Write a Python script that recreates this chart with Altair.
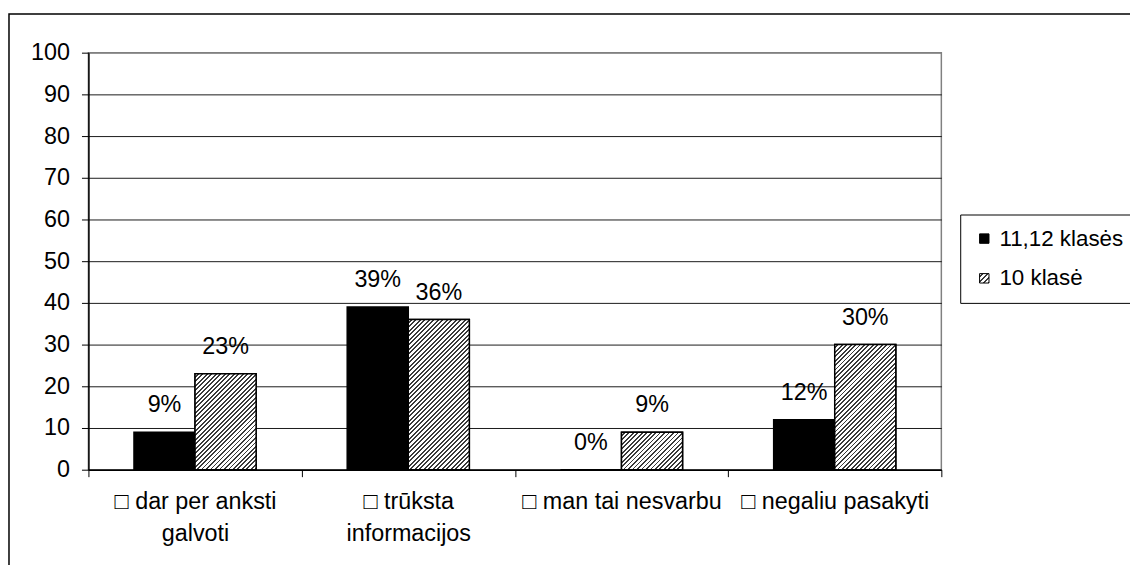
import json
import altair as alt
import pandas as pd

# ---- data ----
categories = ["□ dar per anksti|galvoti", "□ trūksta|informacijos",
              "□ man tai nesvarbu", "□ negaliu pasakyti"]
series = ["11,12 klasės", "10 klasė"]
values_1112 = [9, 39, 0, 12]
values_10 = [23, 36, 9, 30]
y_ticks = list(range(0, 101, 10))

rows = []
for c, a, b in zip(categories, values_1112, values_10):
    rows.append({"category": c, "series": series[0], "value": a})
    rows.append({"category": c, "series": series[1], "value": b})
df = pd.DataFrame(rows)

# ---- layout ----
PLOT_W, PLOT_H = 859, 420
OFFSET_PAD = 0.746
FONT = "Liberation Sans"
FS = 23.5
PERIOD = 4.5
DARK_FRAC = 0.42
DARK = "#3a3a3a"


def hatch(w, h):
    """Diagonal '/' stripes for a box of w x h pixels (bounding-box gradient)."""
    n = max(1, int(round((w + h) / PERIOD)))
    stops = []
    for k in range(n):
        a0 = k / n
        a1 = (k + 1 - DARK_FRAC) / n
        a2 = (k + 1) / n
        stops += [
            {"offset": round(a0, 5), "color": "#ffffff"},
            {"offset": round(a1, 5), "color": "#ffffff"},
            {"offset": round(a1, 5), "color": DARK},
            {"offset": round(a2, 5), "color": DARK},
        ]
    s = (w + h) / (w * w + h * h)
    return {"gradient": "linear", "x1": 0, "y1": 0,
            "x2": round(w * s, 6), "y2": round(h * s, 6), "stops": stops}


x_enc = alt.X(
    "category:N",
    scale=alt.Scale(domain=categories, paddingInner=0, paddingOuter=0),
    axis=alt.Axis(
        title=None, labelAngle=0, tickBand="extent", grid=False,
        labelExpr="split(datum.label, '|')", labelPadding=13,
        labelLineHeight=32, tickSize=7, labelLimit=300,
    ),
)
xoff_enc = alt.XOffset(
    "series:N",
    scale=alt.Scale(domain=series, paddingInner=0, paddingOuter=OFFSET_PAD),
)
y_enc = alt.Y(
    "value:Q",
    scale=alt.Scale(domain=[0, 100], nice=False),
    axis=alt.Axis(
        title=None, values=y_ticks, grid=True, tickSize=7, labelPadding=12,
        gridColor={"condition": {"test": "datum.value == 100", "value": "#808080"},
                   "value": "#1a1a1a"},
    ),
)

base = alt.Chart(df)

frame = alt.Chart(pd.DataFrame({"k": [0]})).mark_rect(
    fill="transparent", stroke="black", strokeWidth=1.5
).encode(
    x=alt.value(-80), x2=alt.value(1100), y=alt.value(-39), y2=alt.value(560)
)

legend_hatch = {"expr": json.dumps(hatch(10, 10))}

bars = base.mark_bar(stroke="black", strokeWidth=1.5).encode(
    x=x_enc, xOffset=xoff_enc, y=y_enc,
    color=alt.Color(
        "series:N",
        scale=alt.Scale(domain=series, range=["#000000", legend_hatch]),
        legend=alt.Legend(title=None),
    ),
)

# hatched overlay for the "10 klasė" bars, corrected for each bar's shape
bar_w = (PLOT_W / len(categories)) / (2 + 2 * OFFSET_PAD)
hatch_layers = []
for c, v in zip(categories, values_10):
    if v <= 0:
        continue
    grad = hatch(bar_w, v * PLOT_H / 100.0)
    layer = base.transform_filter(
        (alt.datum.category == c) & (alt.datum.series == series[1])
    ).mark_bar(fill=grad, stroke="black", strokeWidth=1.5).encode(
        x=x_enc, xOffset=xoff_enc, y=y_enc
    )
    hatch_layers.append(layer)

labels = base.transform_calculate(
    lbl="datum.value + '%'"
).mark_text(
    font=FONT, fontSize=FS, color="black", baseline="alphabetic", dy=-20
).encode(
    x=x_enc, xOffset=xoff_enc, y=y_enc, text="lbl:N"
)

chart = alt.layer(frame, bars, *hatch_layers, labels).properties(
    width=PLOT_W, height=PLOT_H,
    autosize=alt.AutoSizeParams(type="none"),
    padding={"left": 81, "top": 43, "right": 190, "bottom": 94},
).configure_view(
    stroke="#808080", strokeWidth=1.5
).configure_axis(
    labelFont=FONT, labelFontSize=FS, labelColor="black",
    domainColor="black", tickColor="black", domainWidth=1.5, tickWidth=1,
).configure_legend(
    orient="none", legendX=878, legendY=163,
    labelFont=FONT, labelFontSize=22.5, labelColor="black",
    symbolType="square", symbolSize=90, symbolStrokeColor="black",
    symbolStrokeWidth=1, strokeColor="black", fillColor="white",
    padding=13, rowPadding=17, labelOffset=4, labelLimit=300,
)

chart.save("out.html", embed_options={"renderer": "svg", "actions": False})
